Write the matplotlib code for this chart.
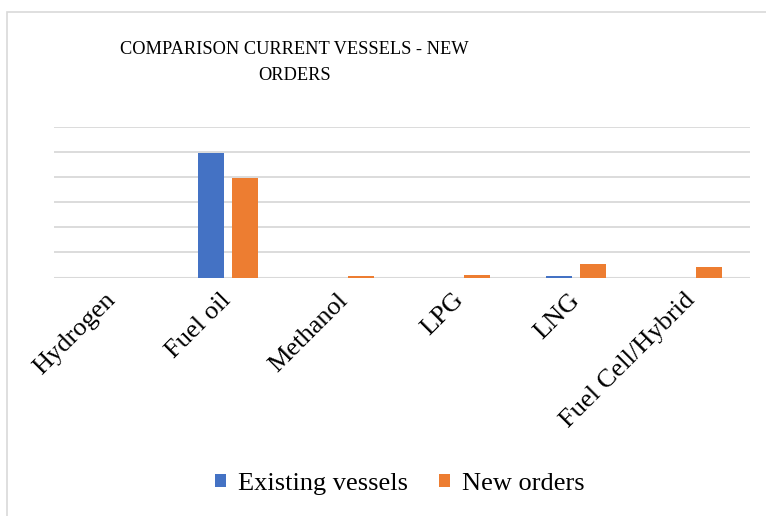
import numpy as np
import matplotlib.pyplot as plt
from matplotlib.patches import Rectangle

categories = ['Hydrogen', 'Fuel oil', 'Methanol', 'LPG', 'LNG', 'Fuel Cell/Hybrid']
existing_vessels = [0, 4.95, 0, 0, 0.06, 0]
new_orders = [0, 3.95, 0.05, 0.08, 0.55, 0.43]

plt.rcParams['font.family'] = ['Liberation Serif', 'DejaVu Serif']

fig = plt.figure(figsize=(7.66, 5.16), dpi=100)
ax = fig.add_axes([0.0705, 0.4622, 0.9086, 0.2917])

x = np.arange(len(categories))
w = 0.224
ax.bar(x - 0.143, existing_vessels, w, color='#4472C4', label='Existing vessels', zorder=3)
ax.bar(x + 0.143, new_orders, w, color='#ED7D31', label='New orders', zorder=3)

ax.set_xlim(-0.5, len(categories) - 0.5)
ax.set_ylim(0, 6)
ax.set_yticks(np.arange(0, 7, 1))
ax.set_yticklabels([])
ax.tick_params(axis='y', length=0)
ax.grid(axis='y', color='#d9d9d9', linewidth=1.3, zorder=0)
for s in ['top', 'right', 'left', 'bottom']:
    ax.spines[s].set_visible(False)
ax.axhline(0, color='#d9d9d9', linewidth=1.5, zorder=2)

ax.set_xticks(x)
ax.set_xticklabels(categories, rotation=45, ha='right', va='center',
                   rotation_mode='anchor', fontsize=19)
ax.tick_params(axis='x', length=0, pad=14)

# title text is narrow in the original, keep width close
fig.text(0.384, 0.879, 'COMPARISON CURRENT VESSELS - NEW\nORDERS', ha='center', va='center',
         fontsize=13.2, linespacing=1.7)

ax.legend(loc='center', bbox_to_anchor=(0.522, 0.062), bbox_transform=fig.transFigure,
          ncol=2, frameon=False, fontsize=19, handlelength=0.4, handleheight=0.4,
          handletextpad=0.45, columnspacing=1.2, borderpad=0)

fig.patches.append(Rectangle((7 / 766, -0.1), 1.2, 1 - 12 / 516 + 0.1, transform=fig.transFigure,
                             fill=False, edgecolor='#d9d9d9', linewidth=1.2))

fig.savefig('out.png', dpi=100)
